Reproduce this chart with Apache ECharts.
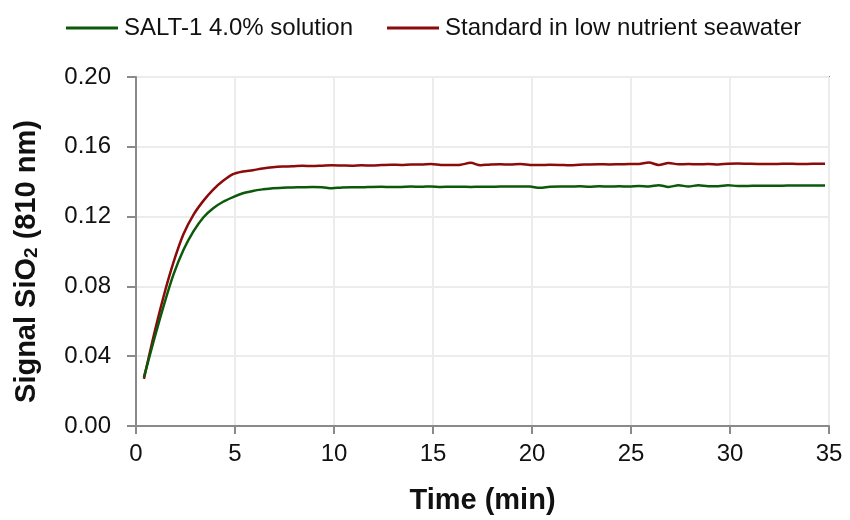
<!DOCTYPE html>
<html>
<head>
<meta charset="utf-8">
<script src="https://cdn.jsdelivr.net/npm/echarts@6/dist/echarts.min.js"></script>
<style>
  html, body { margin: 0; padding: 0; background: #fff; }
  #chart { width: 850px; height: 520px; }
</style>
</head>
<body>
<div id="chart"></div>
<script>
// Sampling times (min)
const timeMin = [
  0.4, 0.9, 1.4, 1.9, 2.4, 2.9, 3.4, 3.9, 4.4, 4.9,
  5.4, 5.9, 6.4, 6.9, 7.4, 7.9, 8.4, 8.9, 9.4, 9.9,
  10.4, 10.9, 11.4, 11.9, 12.4, 12.9, 13.4, 13.9, 14.4, 14.9,
  15.4, 15.9, 16.4, 16.9, 17.4, 17.9, 18.4, 18.9, 19.4, 19.9,
  20.4, 20.9, 21.4, 21.9, 22.4, 22.9, 23.4, 23.9, 24.4, 24.9,
  25.4, 25.9, 26.4, 26.9, 27.4, 27.9, 28.4, 28.9, 29.4, 29.9,
  30.4, 30.9, 31.4, 31.9, 32.4, 32.9, 33.4, 33.9, 34.4, 34.8
];

// SALT-1 4.0% solution
const saltSignal = [
  0.0280, 0.0490, 0.0690, 0.0870, 0.1010, 0.1115, 0.1195, 0.1248, 0.1285, 0.1312,
  0.1334, 0.1347, 0.1356, 0.1363, 0.1365, 0.1367, 0.1368, 0.1369, 0.1368, 0.1362,
  0.1367, 0.1368, 0.1368, 0.1370, 0.1371, 0.1369, 0.1370, 0.1372, 0.1371, 0.1373,
  0.1370, 0.1371, 0.1371, 0.1370, 0.1371, 0.1371, 0.1372, 0.1372, 0.1373, 0.1372,
  0.1365, 0.1371, 0.1373, 0.1372, 0.1374, 0.1371, 0.1374, 0.1372, 0.1374, 0.1372,
  0.1375, 0.1373, 0.1380, 0.1370, 0.1379, 0.1373, 0.1379, 0.1374, 0.1374, 0.1379,
  0.1376, 0.1376, 0.1377, 0.1377, 0.1377, 0.1378, 0.1378, 0.1378, 0.1378, 0.1378
];

// Standard in low nutrient seawater
const standardSignal = [
  0.0270, 0.0520, 0.0745, 0.0940, 0.1100, 0.1210, 0.1290, 0.1355, 0.1405, 0.1443,
  0.1458, 0.1466, 0.1476, 0.1483, 0.1487, 0.1488, 0.1491, 0.1490, 0.1492, 0.1494,
  0.1493, 0.1492, 0.1494, 0.1493, 0.1495, 0.1497, 0.1496, 0.1499, 0.1498, 0.1502,
  0.1496, 0.1495, 0.1497, 0.1508, 0.1494, 0.1499, 0.1500, 0.1498, 0.1501, 0.1496,
  0.1495, 0.1497, 0.1496, 0.1494, 0.1497, 0.1499, 0.1500, 0.1499, 0.1500, 0.1501,
  0.1502, 0.1510, 0.1496, 0.1507, 0.1500, 0.1501, 0.1500, 0.1501, 0.1499, 0.1503,
  0.1504, 0.1503, 0.1502, 0.1502, 0.1502, 0.1503, 0.1502, 0.1502, 0.1503, 0.1503
];

const seriesNames = ['SALT-1 4.0% solution', 'Standard in low nutrient seawater'];
const seriesColors = ['#0b5a0b', '#8b0a0a'];

const FONT = 'Arial, "Liberation Sans", sans-serif';
const axisGray = '#8a8a8a';
const gridGray = '#ececec';

function pairs(values) {
  return timeMin.map((t, i) => [t, values[i]]);
}

const chart = echarts.init(document.getElementById('chart'), null, { renderer: 'canvas' });

chart.setOption({
  animation: false,
  backgroundColor: '#ffffff',
  textStyle: { fontFamily: FONT },
  legend: {
    top: 11,
    left: 61,
    itemGap: 34,
    itemWidth: 52,
    itemHeight: 3,
    icon: 'rect',
    textStyle: { fontFamily: FONT, fontSize: 24, color: '#111', padding: [0, 0, 0, 1] },
    data: seriesNames
  },
  grid: {
    left: 136,
    right: 21,
    top: 77,
    bottom: 92,
    show: true,
    borderColor: axisGray,
    borderWidth: 2,
    backgroundColor: 'transparent'
  },
  xAxis: {
    type: 'value',
    min: 0,
    max: 35,
    interval: 5,
    name: 'Time (min)',
    nameLocation: 'middle',
    nameGap: 60,
    nameTextStyle: { fontFamily: FONT, fontSize: 29, fontWeight: 'bold', color: '#111' },
    axisLine: { show: true, onZero: false, lineStyle: { color: axisGray, width: 2 } },
    axisTick: { show: true, inside: false, length: 8, lineStyle: { color: axisGray, width: 2 } },
    axisLabel: { fontFamily: FONT, fontSize: 24, color: '#111', margin: 16 },
    splitLine: { show: true, lineStyle: { color: gridGray, width: 2 } }
  },
  yAxis: {
    type: 'value',
    min: 0,
    max: 0.2,
    interval: 0.04,
    name: '{a|Signal SiO}{s|2}{a| (810 nm)}',
    nameLocation: 'middle',
    nameGap: 95,
    nameTextStyle: {
      padding: [0, 20, 0, 0],
      rich: {
        a: { fontFamily: FONT, fontSize: 29, fontWeight: 'bold', color: '#111' },
        s: { fontFamily: FONT, fontSize: 19, fontWeight: 'bold', color: '#111', verticalAlign: 'bottom', padding: [10, 0, 0, 0] }
      }
    },
    axisLine: { show: true, lineStyle: { color: axisGray, width: 2 } },
    axisTick: { show: true, inside: false, length: 9, lineStyle: { color: axisGray, width: 2 } },
    axisLabel: {
      fontFamily: FONT, fontSize: 24, color: '#111', margin: 25,
      formatter: v => v.toFixed(2)
    },
    splitLine: { show: true, lineStyle: { color: gridGray, width: 2 } }
  },
  series: [
    {
      name: seriesNames[0],
      type: 'line',
      data: pairs(saltSignal),
      showSymbol: false,
      smooth: 0.3,
      color: seriesColors[0],
      lineStyle: { color: seriesColors[0], width: 2.5 },
      z: 3
    },
    {
      name: seriesNames[1],
      type: 'line',
      data: pairs(standardSignal),
      showSymbol: false,
      smooth: 0.3,
      color: seriesColors[1],
      lineStyle: { color: seriesColors[1], width: 2.5 },
      z: 2
    }
  ]
});
</script>
</body>
</html>
